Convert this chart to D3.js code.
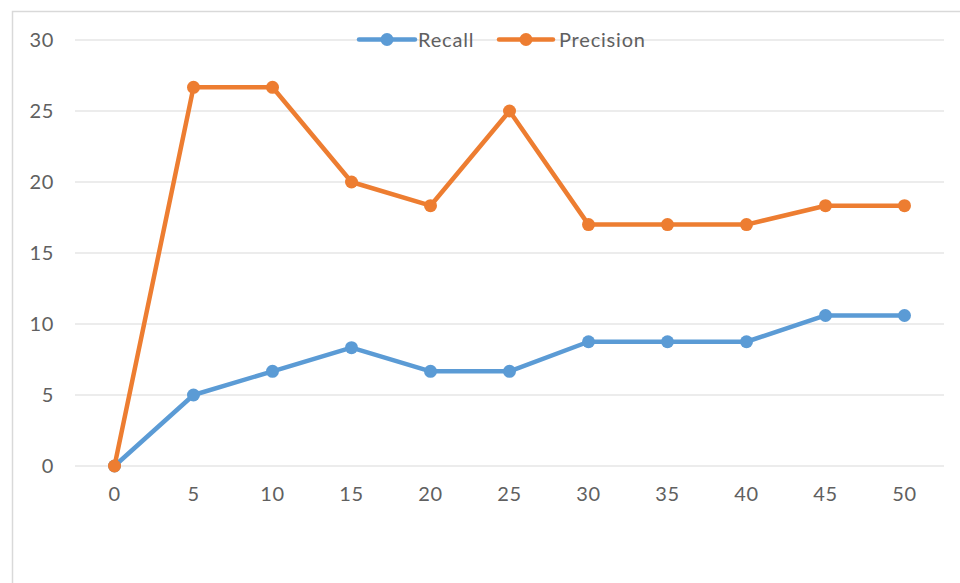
<!DOCTYPE html>
<html>
<head>
<meta charset="utf-8">
<script src="https://cdn.jsdelivr.net/npm/d3@7/dist/d3.min.js"></script>
<style>
  html, body { margin: 0; padding: 0; background: #fff; }
  svg { display: block; }
</style>
</head>
<body>
<svg id="chart" width="960" height="583"></svg>
<script>
// Category labels along the x axis
const categories = ["0", "5", "10", "15", "20", "25", "30", "35", "40", "45", "50"];
// Series values
const recall    = [0, 5, 6.67, 8.33, 6.67, 6.67, 8.75, 8.75, 8.75, 10.6, 10.6];
const precision = [0, 26.67, 26.67, 20, 18.33, 25, 17, 17, 17, 18.33, 18.33];
// Y axis ticks
const yTicks = [0, 5, 10, 15, 20, 25, 30];

const seriesNames = ["Recall", "Precision"];
const seriesColors = ["#5B9BD5", "#ED7D31"];

const svg = d3.select("#chart");
const font = "Lato, 'Open Sans', sans-serif";
const textColor = "#606060";
const gridColor = "#d9d9d9";

// Chart frame
svg.append("rect")
  .attr("x", 12.5).attr("y", 11.5)
  .attr("width", 1000).attr("height", 1000)
  .attr("fill", "none")
  .attr("stroke", gridColor)
  .attr("stroke-width", 1.5);

const plot = { left: 75, right: 944, top: 40, bottom: 466 };

const x = d3.scaleBand()
  .domain(categories)
  .range([plot.left, plot.right])
  .paddingInner(0).paddingOuter(0);

const y = d3.scaleLinear()
  .domain([0, 30])
  .range([plot.bottom, plot.top]);

// Horizontal gridlines
svg.append("g")
  .selectAll("line")
  .data(yTicks)
  .join("line")
  .attr("x1", plot.left).attr("x2", plot.right)
  .attr("y1", d => y(d)).attr("y2", d => y(d))
  .attr("stroke", gridColor)
  .attr("stroke-width", 1.2);

// Y axis labels
const yAxis = d3.axisLeft(y).tickValues(yTicks).tickSize(0).tickPadding(0);
svg.append("g")
  .attr("transform", `translate(${plot.left - 21},0)`)
  .call(yAxis)
  .call(g => g.select(".domain").remove())
  .call(g => g.selectAll("text")
    .attr("fill", textColor)
    .style("font-family", font)
    .style("font-size", "20px")
    .style("letter-spacing", "0.6px"));

// X axis labels
const xAxis = d3.axisBottom(x).tickSize(0).tickPadding(0);
svg.append("g")
  .attr("transform", `translate(0,${plot.bottom + 21})`)
  .call(xAxis)
  .call(g => g.select(".domain").remove())
  .call(g => g.selectAll("text")
    .attr("fill", textColor)
    .style("font-family", font)
    .style("font-size", "20px")
    .style("letter-spacing", "0.6px"));

const cx = d => x(d) + x.bandwidth() / 2;

const line = d3.line()
  .x((d, i) => cx(categories[i]))
  .y(d => y(d));

[recall, precision].forEach((vals, k) => {
  const g = svg.append("g");
  g.append("path")
    .datum(vals)
    .attr("d", line)
    .attr("fill", "none")
    .attr("stroke", seriesColors[k])
    .attr("stroke-width", 4.5)
    .attr("stroke-linejoin", "round")
    .attr("stroke-linecap", "round");
  g.selectAll("circle")
    .data(vals)
    .join("circle")
    .attr("cx", (d, i) => cx(categories[i]))
    .attr("cy", d => y(d))
    .attr("r", 6.5)
    .attr("fill", seriesColors[k]);
});

// Legend
const legendItems = [
  { x0: 359, x1: 415, tx: 418 },
  { x0: 499, x1: 553, tx: 559 }
];
const legendY = 39.5;
const lg = svg.append("g");
legendItems.forEach((it, k) => {
  lg.append("line")
    .attr("x1", it.x0).attr("x2", it.x1)
    .attr("y1", legendY).attr("y2", legendY)
    .attr("stroke", seriesColors[k])
    .attr("stroke-width", 4.5)
    .attr("stroke-linecap", "round");
  lg.append("circle")
    .attr("cx", (it.x0 + it.x1) / 2).attr("cy", legendY)
    .attr("r", 6.5)
    .attr("fill", seriesColors[k]);
  lg.append("text")
    .attr("x", it.tx).attr("y", legendY)
    .attr("dy", "0.35em")
    .attr("fill", textColor)
    .style("font-family", font)
    .style("font-size", "20px")
    .style("letter-spacing", "0.8px")
    .text(seriesNames[k]);
});
</script>
</body>
</html>
